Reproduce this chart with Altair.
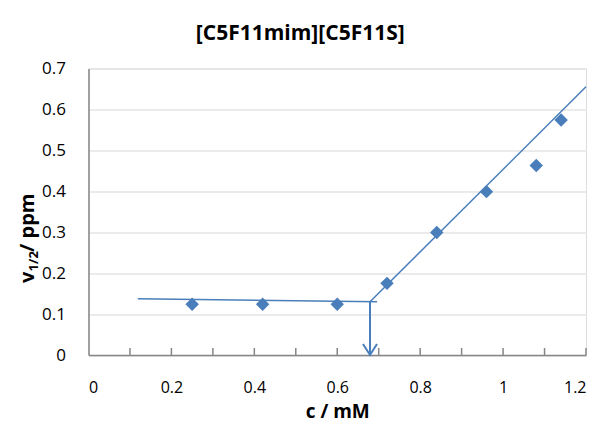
import altair as alt
import pandas as pd

# ---- data ----
conc = [0.25, 0.42, 0.60, 0.72, 0.84, 0.96, 1.08, 1.14]
half_width = [0.124, 0.124, 0.124, 0.175, 0.299, 0.399, 0.463, 0.574]

flat_x = [0.119, 0.696]
flat_y = [0.1375, 0.130]
rise_x = [0.679, 1.2]
rise_y = [0.130, 0.655]
cmc_x = [0.679, 0.679]
cmc_y = [0.130, 0.0]

x_label_values = [0, 0.2, 0.4, 0.6, 0.8, 1.0, 1.2]
x_minor_ticks = [0.1, 0.2, 0.3, 0.4, 0.5, 0.6, 0.7, 0.8, 0.9, 1.0, 1.1, 1.2]
y_tick_values = [0, 0.1, 0.2, 0.3, 0.4, 0.5, 0.6, 0.7]

title_text = "[C5F11mim][C5F11S]"
x_title = "c / mM"
y_title_parts = ["v", "1/2", "/ ppm"]

BLUE = "#4a7ebb"
AXIS_GRAY = "#868686"
FONT = "Open Sans"

W, H = 497.5, 286.6

xs = alt.Scale(domain=[0, 1.2], nice=False, zero=False)
ys = alt.Scale(domain=[0, 0.7], nice=False, zero=False)

pts = pd.DataFrame({"c": conc, "w": half_width})
lines_df = pd.DataFrame({
    "c": flat_x + rise_x,
    "w": flat_y + rise_y,
    "seg": ["flat", "flat", "rise", "rise"],
})
arrow_df = pd.DataFrame({"c": cmc_x, "w": cmc_y})
head_df = pd.DataFrame({"c": [cmc_x[1]], "w": [cmc_y[1]]})
ticks_df = pd.DataFrame({"c": x_minor_ticks})

x_axis = alt.Axis(
    values=x_label_values, labelExpr="format(datum.value, '~g')",
    grid=False, ticks=False, tickSize=0, domainColor=AXIS_GRAY, domainWidth=1.5,
    labelFont=FONT, labelFontSize=16, labelColor="black", labelPadding=24,
    title=x_title, titleFont=FONT, titleFontSize=19, titleFontWeight="bold",
    titleColor="black", titlePadding=7,
)
y_axis = alt.Axis(
    values=y_tick_values, labelExpr="format(datum.value, '~g')",
    grid=True, gridColor="#e4e4e4", gridWidth=1.5,
    ticks=False, tickSize=0, domainColor=AXIS_GRAY, domainWidth=1.5,
    labelFont=FONT, labelFontSize=17, labelColor="black", labelPadding=23,
    title=None,
)

base_x = alt.X("c:Q", scale=xs, axis=x_axis)
base_y = alt.Y("w:Q", scale=ys, axis=y_axis)

fit_lines = alt.Chart(lines_df).mark_line(color=BLUE, strokeWidth=1.5).encode(
    x=base_x, y=base_y, detail="seg:N"
)
arrow_line = alt.Chart(arrow_df).mark_line(color=BLUE, strokeWidth=2).encode(
    x=alt.X("c:Q", scale=xs), y=alt.Y("w:Q", scale=ys)
)
arrow_head = alt.Chart(head_df).mark_point(
    shape="M-1,-1.57L0,0L1,-1.57", size=196, filled=False,
    color=BLUE, strokeWidth=2, opacity=1,
).encode(x=alt.X("c:Q", scale=xs), y=alt.Y("w:Q", scale=ys))

minor_ticks = alt.Chart(ticks_df).mark_rule(color=AXIS_GRAY, strokeWidth=1.5).encode(
    x=alt.X("c:Q", scale=xs), y=alt.value(H - 7), y2=alt.value(H)
)

points = alt.Chart(pts).mark_point(
    shape="diamond", size=180, filled=True, color=BLUE, opacity=1
).encode(x=alt.X("c:Q", scale=xs), y=alt.Y("w:Q", scale=ys))

# y-axis title with a subscript, built from three rotated text pieces
yt_main = pd.DataFrame({"t": [y_title_parts[0]]})
yt_sub = pd.DataFrame({"t": [y_title_parts[1]]})
yt_rest = pd.DataFrame({"t": [y_title_parts[2]]})
ytitle_v = alt.Chart(yt_main).mark_text(
    angle=270, align="left", baseline="alphabetic", font=FONT,
    fontSize=20, fontWeight="bold", color="black"
).encode(x=alt.value(-54.5), y=alt.value(214.6), text="t:N")
ytitle_sub = alt.Chart(yt_sub).mark_text(
    angle=270, align="left", baseline="alphabetic", font=FONT,
    fontSize=13, fontWeight="bold", color="black"
).encode(x=alt.value(-50.5), y=alt.value(203.0), text="t:N")
ytitle_rest = alt.Chart(yt_rest).mark_text(
    angle=270, align="left", baseline="alphabetic", font=FONT,
    fontSize=20, fontWeight="bold", color="black"
).encode(x=alt.value(-54.5), y=alt.value(183.5), text="t:N")

chart = alt.layer(
    fit_lines, arrow_line, arrow_head, minor_ticks, points,
    ytitle_v, ytitle_sub, ytitle_rest,
).properties(
    width=W, height=H,
    title=alt.TitleParams(
        title_text, font=FONT, fontSize=21, fontWeight="bold",
        color="black", anchor="middle", frame="group", dx=-37, offset=15,
    ),
    autosize=alt.AutoSizeParams(type="none"),
    padding={"left": 80.5, "top": 60.4, "right": 6, "bottom": 68},
).configure_view(stroke=None).configure(background="white")

chart.save("out.html", embed_options={"renderer": "svg", "actions": False})
